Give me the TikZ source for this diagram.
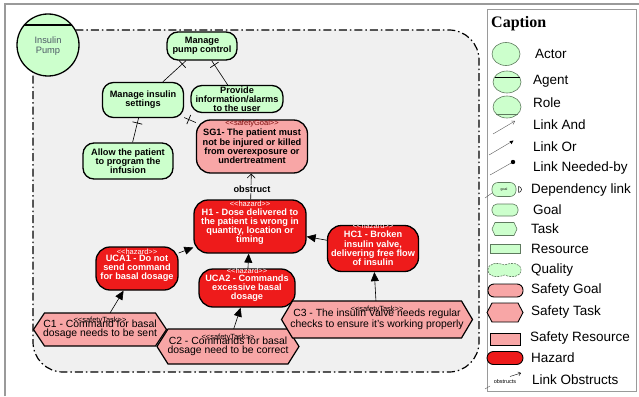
\documentclass[tikz,border=0pt]{standalone}
\usepackage{fontspec}
\setmainfont{Liberation Sans}
\newfontfamily\capfont{Liberation Serif}
\usetikzlibrary{arrows.meta,decorations.markings}

\definecolor{goalgreen}{HTML}{CCFFCC}
\definecolor{safepink}{HTML}{F8A6A6}
\definecolor{hazred}{HTML}{EE1B1B}
\definecolor{bndfill}{HTML}{F0F0F0}
\definecolor{framegray}{HTML}{9A9A9A}
\definecolor{stereored}{HTML}{7A0A0A}
\definecolor{legline}{HTML}{5E7A5E}
\definecolor{actortext}{HTML}{4D5A66}

% stereotype text, kerned so << and >> stay as two characters
\newcommand\stt[1]{<\kern0pt<#1>\kern0pt>}

\tikzset{
  lbl/.style={font=\fontsize{9.2}{9.2}\selectfont\bfseries, align=center, inner sep=0pt},
  goal/.style={lbl, draw, line width=1.3pt, fill=goalgreen, rounded corners=11pt},
  sgoal/.style={lbl, draw, line width=1.3pt, fill=safepink, rounded corners=14pt},
  hazard/.style={lbl, draw, line width=1.3pt, fill=hazred, text=white, rounded corners=14pt},
  stasktext/.style={font=\fontsize{10.4}{9.2}\selectfont, align=center, inner sep=0pt},
  stereo/.style={font=\fontsize{7.5}{8}\selectfont, inner sep=0pt},
  andlink/.style={line width=0.6pt, postaction={decorate},
    decoration={markings, mark=at position -5pt with {\draw[line width=0.7pt] (0,-5pt) -- (0,5pt);}}},
  contrib/.style={line width=0.6pt, -{Triangle[length=9pt,width=8pt]}},
  obst/.style={line width=0.6pt, -{Straight Barb[length=4pt,width=8pt]}},
  legtext/.style={font=\fontsize{13.5}{14}\selectfont, anchor=west, inner sep=0pt},
  legicon/.style={fill=goalgreen, draw=legline, line width=0.6pt},
  legsafe/.style={fill=safepink, draw=black, line width=0.9pt},
}

% safety task: hexagon outline with a named node of the same size on top
\newcommand\safetytask[6]{%
  \draw[line width=1.2pt, fill=safepink]
    (#2-#4/2,#3) -- (#2-#4/2+11,#3-#5/2) -- (#2+#4/2-11,#3-#5/2) --
    (#2+#4/2,#3) -- (#2+#4/2-11,#3+#5/2) -- (#2-#4/2+11,#3+#5/2) -- cycle;
  \node[stasktext, minimum width=#4pt, minimum height=#5pt] (#1) at (#2,#3) {#6};
}

\begin{document}
\begin{tikzpicture}[x=1pt,y=-1pt]
\useasboundingbox (0,0) rectangle (639,396);

% page frame
\draw[framegray, line width=1.5pt] (5,396) -- (5,4) -- (639,4);

% actor boundary
\draw[line width=1.2pt, fill=bndfill, dash pattern=on 8pt off 3pt on 1.5pt off 3pt,
      rounded corners=30pt] (33,30) rectangle (479,372);

% agent
\draw[line width=1.3pt, fill=goalgreen] (48,45) circle[radius=31pt];
\draw[line width=1.2pt] (24.3,25) -- (71.7,25);
\node[font=\fontsize{9.3}{9.5}\selectfont, text=actortext, align=center, inner sep=0pt]
  (actor) at (48,46) {Insulin\\Pump};

% goals
\node[goal, minimum width=70pt, minimum height=28pt] (mpc) at (202,46) {Manage\\pump control};
\node[goal, minimum width=81pt, minimum height=35pt] (mis) at (143,100) {Manage insulin\\settings};
\node[goal, minimum width=92pt, minimum height=27pt] (pia) at (237,99) {Provide\\information/alarms\\to the user};
\node[goal, minimum width=90pt, minimum height=36pt] (alw) at (128,161) {Allow the patient\\to program the\\infusion};

% safety goal
\node[sgoal, minimum width=111pt, minimum height=53pt] (sg1) at (252,146.5)
  {SG1- The patient must\\not be injured or killed\\from overexposure or\\undertreatment};
\node[stereo, text=stereored] (sg1st) at (252,123.5) {\stt{safetyGoal}};

% hazards
\node[hazard, minimum width=112pt, minimum height=53pt] (h1) at (250,226.5)
  {H1 - Dose delivered to\\the patient is wrong in\\quantity, location or\\timing};
\node[stereo, text=white] (h1st) at (250,204) {\stt{hazard}};

\node[hazard, minimum width=82pt, minimum height=43pt] (uca1) at (137,268.5)
  {UCA1 - Do not\\send command\\for basal dosage};
\node[stereo, text=white] (uca1st) at (137,251.5) {\stt{hazard}};

\node[hazard, minimum width=96pt, minimum height=38pt] (uca2) at (247,288)
  {UCA2 - Commands\\excessive basal\\dosage};
\node[stereo, text=white] (uca2st) at (247,270.5) {\stt{hazard}};

\node[hazard, minimum width=91pt, minimum height=46pt] (hc1) at (373,248.5)
  {HC1 - Broken\\insulin valve,\\delivering free flow\\of insulin};
\node[stereo, text=white] (hc1st) at (373,226) {\stt{hazard}};

% safety tasks
\safetytask{c1}{100}{329.5}{133}{33}{C1 - Command for basal\\dosage needs to be sent}
\node[stereo] (c1st) at (100,321) {\stt{safetyTask}};
\safetytask{c2}{228}{346.5}{142}{35}{C2 - Commands for basal\\dosage need to be correct}
\node[stereo] (c2st) at (228,337.5) {\stt{safetyTask}};
\safetytask{c3}{377}{319.5}{191}{37}{C3 - The insulin Valve needs regular\\checks to ensure it's working properly}
\node[stereo] (c3st) at (377,310) {\stt{safetyTask}};

% and-decompositions
\draw[andlink] (mis) -- (mpc);
\draw[andlink] (pia) -- (mpc);
\draw[andlink] (alw) -- (mis);
\draw[andlink] (sg1) -- (mis);

% obstruction
\draw[obst] (h1) -- (sg1);
\node[font=\fontsize{9.2}{9.2}\selectfont\bfseries, fill=bndfill, inner sep=1pt] (obl) at (252,189) {obstruct};

% contributions
\draw[contrib] (uca1) -- (h1);
\draw[contrib] (uca2) -- (h1);
\draw[contrib] (hc1) -- (h1);
\draw[contrib] (c1) -- (uca1);
\draw[contrib] (c2) -- (uca2);
\draw[contrib] (c3) -- (hc1);

% ---------------- caption ----------------
\draw[framegray, line width=0.8pt] (487,9) rectangle (636,391);
\node[font=\capfont\fontsize{16}{18}\selectfont\bfseries, anchor=west, inner sep=0pt] (cap) at (491,24) {Caption};

% actor, agent, role
\draw[legicon] (506,54) ellipse [x radius=14pt, y radius=11.5pt];
\draw[legicon] (507,82) ellipse [x radius=14pt, y radius=11pt];
\draw[line width=0.8pt] (494.5,77) -- (519.5,77);
\draw[legicon] (507,107) ellipse [x radius=14pt, y radius=11pt];
\draw[line width=0.6pt, legline] (496.2,114) -- (517.8,114);
\node[legtext] (lactor) at (535,54) {Actor};
\node[legtext] (lagent) at (533,81) {Agent};
\node[legtext] (lrole) at (533,103) {Role};

% link and / or / needed-by
\draw[line width=0.4pt, gray!70!black, -{Straight Barb[length=3pt,width=4pt]}] (493,134) -- (515,121);
\node[legtext] (land) at (533,125) {Link And};
\draw[line width=0.4pt, gray!70!black] (489,155) -- (511,142);
\fill (513.5,140.5) -- (509.5,141.2) -- (511.6,144.2) -- cycle;
\node[legtext] (lor) at (533,147) {Link Or};
\draw[line width=0.4pt, gray!70!black] (490,175) -- (513,162);
\fill (513,162) circle[radius=2.2pt];
\node[legtext] (lneed) at (533,168) {Link Needed-by};

% dependency link
\draw[line width=0.4pt, gray!70!black] (485,198) -- (492,193);
\draw[legicon, rounded corners=6pt] (492,182.5) rectangle (516,196.5);
\node[font=\fontsize{3.5}{4}\selectfont, inner sep=0pt] (lgoaltiny) at (504,189.5) {goal};
\draw[line width=0.5pt] (518.5,192.5) -- (518.5,186.5) arc[start angle=90, end angle=-90, radius=3pt];
\node[legtext] (ldep) at (531,190) {Dependency link};

% goal, task, resource, quality
\draw[legicon, rounded corners=5pt] (492,204) rectangle (518,216);
\node[legtext] (lgoal) at (533,210) {Goal};
\draw[legicon] (492,229) -- (495,222.5) -- (514,222.5) -- (517,229) -- (514,235.5) -- (495,235.5) -- cycle;
\node[legtext] (ltask) at (531,229) {Task};
\draw[legicon] (490,244.5) rectangle (520,253.5);
\node[legtext] (lres) at (531,249) {Resource};
\draw[legicon, dashed, dash pattern=on 2pt off 1pt]
  (488,270) .. controls (488,263) and (497,262) .. (504.5,265)
  .. controls (512,262) and (521,263) .. (521,270)
  .. controls (521,277) and (512,278) .. (504.5,275)
  .. controls (497,278) and (488,277) .. (488,270) -- cycle;
\node[legtext] (lqual) at (531,270) {Quality};

% safety elements
\draw[legsafe, rounded corners=6pt] (488,284) rectangle (523,297);
\node[legtext] (lsg) at (531,290) {Safety Goal};
\draw[legsafe] (487,312.5) -- (492,303) -- (518,303) -- (523,312.5) -- (518,322) -- (492,322) -- cycle;
\node[legtext] (lst) at (531,312) {Safety Task};
\draw[legsafe] (490,333) rectangle (520,345);
\node[legtext] (lsr) at (530,338) {Safety Resource};
\draw[line width=0.9pt, fill=hazred, rounded corners=6.5pt] (487,351.5) rectangle (523,364.5);
\node[legtext] (lhaz) at (531,358) {Hazard};

% link obstructs
\draw[line width=0.4pt, gray!70!black] (485,389) -- (490,386);
\node[font=\fontsize{5.5}{6}\selectfont, inner sep=0pt] (lobsw) at (505,382) {obstructs};
\draw[line width=0.4pt, -{Straight Barb[length=2.5pt,width=4pt]}] (510,376.5) -- (521,373);
\node[legtext] (lobs) at (532,380) {Link Obstructs};
\end{tikzpicture}
\end{document}
